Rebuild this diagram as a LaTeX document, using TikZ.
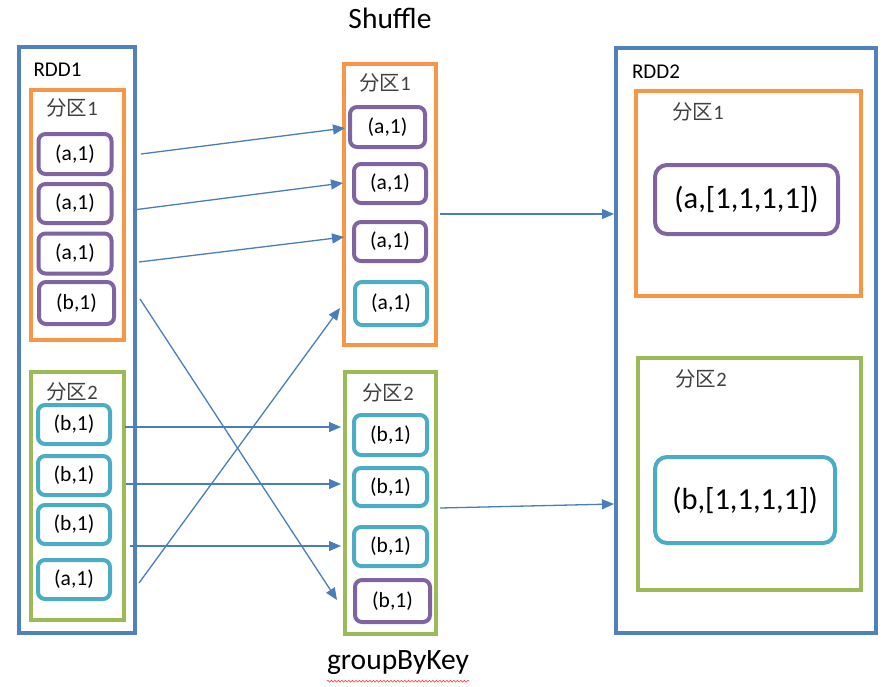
\documentclass[tikz,border=0pt]{standalone}
\usepackage{fontspec}
\setmainfont{Carlito}
\newfontfamily\cjk{Noto Sans CJK SC}
\usetikzlibrary{arrows.meta,decorations.pathmorphing}
\definecolor{rddblue}{HTML}{4F81BD}
\definecolor{porange}{HTML}{F79646}
\definecolor{pgreen}{HTML}{9BBB59}
\definecolor{kvpurple}{HTML}{8064A2}
\definecolor{kvcyan}{HTML}{4BACC6}
\definecolor{arrblue}{HTML}{4A7EBB}
\definecolor{labgray}{HTML}{404040}
\begin{document}
\begin{tikzpicture}[x=1pt,y=-1pt,
  rddbox/.style={draw=rddblue, line width=4pt, inner sep=0pt},
  orangebox/.style={draw=porange, line width=3.8pt, inner sep=0pt},
  greenbox/.style={draw=pgreen, line width=3.8pt, inner sep=0pt},
  kvp/.style={draw=kvpurple, line width=4pt, rounded corners=7pt, inner sep=0pt, font=\fontsize{21.5}{23}\selectfont},
  kvc/.style={draw=kvcyan, line width=4pt, rounded corners=7pt, inner sep=0pt, font=\fontsize{21.5}{23}\selectfont},
  bigp/.style={kvp, rounded corners=12pt, font=\fontsize{30.5}{32}\selectfont},
  bigc/.style={kvc, rounded corners=12pt, font=\fontsize{30.5}{32}\selectfont},
  rddlab/.style={inner sep=0pt, font=\fontsize{21}{23}\selectfont},
  partlab/.style={inner sep=0pt, text=labgray, font=\fontsize{20.5}{22}\selectfont},
  title/.style={inner sep=0pt, font=\fontsize{29.5}{32}\selectfont},
  arr/.style={draw=arrblue, line width=1.3pt, -{Triangle[length=12pt,width=10pt]}}
]
\useasboundingbox[fill=white] (0,0) rectangle (896,686);

% ---- RDD1 ----
\node[rddbox, minimum width=116pt, minimum height=586pt] (rdd1) at (77,340) {};
\node[rddlab] (rdd1lab) at (57.5,70) {RDD1};
\node[orangebox, minimum width=93pt, minimum height=250pt] (L1) at (77.5,215) {};
\node[partlab] (L1lab) at (72,108) {{\cjk 分区}1};
\node[kvp, minimum width=73pt, minimum height=40pt] (a1) at (75,154) {(a,1)};
\node[kvp, minimum width=73pt, minimum height=39pt] (a2) at (75,203.5) {(a,1)};
\node[kvp, minimum width=73pt, minimum height=40pt] (a3) at (75,253.5) {(a,1)};
\node[kvp, minimum width=75pt, minimum height=42pt] (a4) at (76.5,303) {(b,1)};

\node[greenbox, minimum width=93pt, minimum height=248pt] (L2) at (77.5,496) {};
\node[partlab] (L2lab) at (72,392) {{\cjk 分区}2};
\node[kvc, minimum width=72pt, minimum height=39pt] (b1) at (74,424.5) {(b,1)};
\node[kvc, minimum width=72pt, minimum height=39pt] (b2) at (74,475.5) {(b,1)};
\node[kvc, minimum width=72pt, minimum height=39pt] (b3) at (74,524.5) {(b,1)};
\node[kvc, minimum width=72pt, minimum height=39pt] (b4) at (74,579.5) {(a,1)};

% ---- middle ----
\node[title] (shuffle) at (390,18) {Shuffle};
\node[title] (gbk) at (398,663) {groupByKey};
\draw[red!80, line width=0.6pt, decorate, decoration={snake, amplitude=0.9pt, segment length=3.5pt}] (gbk.south west) ++(0,6) coordinate (sq1) -- (gbk.south east |- sq1);

\node[orangebox, minimum width=92pt, minimum height=281pt] (M1) at (390,204.5) {};
\node[partlab] (M1lab) at (385,83) {{\cjk 分区}1};
\node[kvp, minimum width=75pt, minimum height=40pt] (m1) at (387.5,127) {(a,1)};
\node[kvp, minimum width=72pt, minimum height=39pt] (m2) at (390,183.5) {(a,1)};
\node[kvp, minimum width=72pt, minimum height=39pt] (m3) at (390,241.5) {(a,1)};
\node[kvc, minimum width=72pt, minimum height=43pt] (m4) at (391,303.5) {(a,1)};

\node[greenbox, minimum width=91pt, minimum height=262pt] (M2) at (390.5,503) {};
\node[partlab] (M2lab) at (388,393) {{\cjk 分区}2};
\node[kvc, minimum width=73pt, minimum height=40pt] (n1) at (390.5,435) {(b,1)};
\node[kvc, minimum width=73pt, minimum height=38pt] (n2) at (390.5,487) {(b,1)};
\node[kvc, minimum width=73pt, minimum height=39pt] (n3) at (390.5,546.5) {(b,1)};
\node[kvp, minimum width=75pt, minimum height=42pt] (n4) at (392.5,601) {(b,1)};

% ---- RDD2 ----
\node[rddbox, minimum width=260pt, minimum height=585pt] (rdd2) at (746,340.5) {};
\node[rddlab] (rdd2lab) at (656,72) {RDD2};
\node[orangebox, minimum width=225pt, minimum height=205pt] (R1) at (748.5,193.5) {};
\node[partlab] (R1lab) at (698,112) {{\cjk 分区}1};
\node[bigp, minimum width=183pt, minimum height=69pt] (ra) at (746.5,199.5) {(a,[1,1,1,1])};
\node[greenbox, minimum width=223pt, minimum height=232pt] (R2) at (749.5,474) {};
\node[partlab] (R2lab) at (701,379) {{\cjk 分区}2};
\node[bigc, minimum width=180pt, minimum height=86pt] (rb) at (745,500) {(b,[1,1,1,1])};

% ---- connector ends ----
\coordinate (s1) at (141,154);
\coordinate (s2) at (133,210);
\coordinate (s3) at (139,262);
\coordinate (s4) at (140,299);
\coordinate (s5) at (125,427);
\coordinate (s6) at (126,484);
\coordinate (s7) at (130,546);
\coordinate (s8) at (139,583);
\coordinate (e1) at (345,128);
\coordinate (e2) at (343,183);
\coordinate (e3) at (344,237);
\coordinate (e4) at (337,600);
\coordinate (e5) at (341,427);
\coordinate (e6) at (341,484);
\coordinate (e7) at (341,546);
\coordinate (e8) at (340,308);
\coordinate (s9) at (440,214);
\coordinate (s10) at (440,508);
\coordinate (e9) at (rdd2.west |- 0,214);
\coordinate (e10) at (rdd2.west |- 0,504);

\draw[arr] (s1) -- (e1);
\draw[arr] (s2) -- (e2);
\draw[arr] (s3) -- (e3);
\draw[arr] (s4) -- (e4);
\draw[arr] (s5) -- (e5);
\draw[arr] (s6) -- (e6);
\draw[arr] (s7) -- (e7);
\draw[arr] (s8) -- (e8);
\draw[arr] (s9) -- (e9);
\draw[arr] (s10) -- (e10);
\end{tikzpicture}
\end{document}
